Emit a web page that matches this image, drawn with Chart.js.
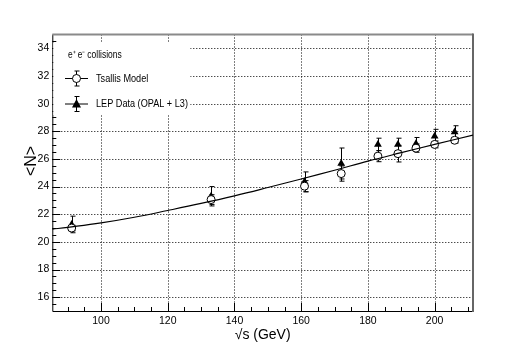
<!DOCTYPE html>
<html>
<head>
<meta charset="utf-8">
<script src="https://cdn.jsdelivr.net/npm/chart.js@4.4.0/dist/chart.umd.min.js"></script>
<style>
  html, body { margin: 0; padding: 0; background: #fff; }
  #wrap { width: 526px; height: 346px; }
</style>
</head>
<body>
<div id="wrap"><canvas id="chartCanvas" width="526" height="346"></canvas></div>
<script>
const energies = [91.2, 133, 161, 172, 183, 189, 194.4, 200, 206];
const tsallisMean = [21.0, 23.06, 24.03, 24.94, 26.2, 26.38, 26.78, 27.05, 27.35];
const tsallisErr = [0.2, 0.35, 0.4, 0.55, 0.4, 0.6, 0.3, 0.25, 0.2];
const lepMean = [21.26, 23.3, 24.34, 25.67, 27.05, 27.05, 27.1, 27.64, 27.95];
const lepErr = [0.6, 0.7, 0.72, 1.12, 0.45, 0.45, 0.45, 0.5, 0.45];
const curveX = [85.4, 90, 100, 110, 120, 130, 140, 150, 160, 170, 180, 190, 200, 211.5];
const curveY = [20.92, 21.05, 21.37, 21.78, 22.27, 22.78, 23.33, 23.93, 24.55, 25.18, 25.84, 26.45, 27.05, 27.72];
const xTicks = [100, 120, 140, 160, 180, 200];
const yTicks = [16, 18, 20, 22, 24, 26, 28, 30, 32, 34];

const FONT = "'Liberation Sans', Arial, sans-serif";
const errs = [tsallisErr, lepErr];

// condensed text, like the ROOT helvetica in the picture
function narrowText(ctx, txt, x, y, sx) {
  ctx.save();
  ctx.translate(x, y);
  ctx.scale(sx, 1);
  ctx.fillText(txt, 0, 0);
  ctx.restore();
}

// grid, ticks and frame (ROOT style)
const framePlugin = {
  id: 'frame',
  beforeDatasetsDraw(chart) {
    const { ctx, chartArea: a, scales: { x, y } } = chart;
    ctx.save();
    ctx.strokeStyle = '#000';
    ctx.lineWidth = 1;
    ctx.setLineDash([1, 2]);
    xTicks.forEach(v => {
      const px = Math.round(x.getPixelForValue(v)) + 0.5;
      ctx.beginPath(); ctx.moveTo(px, a.top); ctx.lineTo(px, a.bottom); ctx.stroke();
    });
    yTicks.forEach(v => {
      const py = Math.round(y.getPixelForValue(v)) + 0.5;
      ctx.beginPath(); ctx.moveTo(a.left, py); ctx.lineTo(a.right, py); ctx.stroke();
    });
    ctx.setLineDash([]);
    // axes
    ctx.beginPath();
    ctx.moveTo(a.left + 0.5, a.top); ctx.lineTo(a.left + 0.5, a.bottom + 0.5);
    ctx.lineTo(a.right, a.bottom + 0.5);
    ctx.stroke();
    for (let v = 90; v <= 210; v += 5) {
      const px = Math.round(x.getPixelForValue(v)) + 0.5;
      const len = v % 20 === 0 ? 8 : 4;
      ctx.beginPath(); ctx.moveTo(px, a.bottom); ctx.lineTo(px, a.bottom - len); ctx.stroke();
    }
    for (let v = 15.5; v <= 34.6; v += 0.5) {
      const py = Math.round(y.getPixelForValue(v)) + 0.5;
      const len = Math.abs(v % 2) < 0.01 ? 8 : 4;
      ctx.beginPath(); ctx.moveTo(a.left, py); ctx.lineTo(a.left + len, py); ctx.stroke();
    }
    // top / right frame
    ctx.strokeStyle = '#8a8a8a';
    ctx.lineWidth = 2;
    ctx.beginPath(); ctx.moveTo(a.left, a.top); ctx.lineTo(a.right, a.top); ctx.stroke();
    ctx.strokeStyle = '#666';
    ctx.beginPath(); ctx.moveTo(a.right, a.top - 1); ctx.lineTo(a.right, a.bottom + 1); ctx.stroke();

    // error bars
    ctx.strokeStyle = '#000';
    ctx.lineWidth = 1;
    [1, 2].forEach((di, k) => {
      const ds = chart.data.datasets[di];
      const meta = chart.getDatasetMeta(di);
      ds.data.forEach((p, i) => {
        const px = Math.round(meta.data[i].x) + 0.5;
        const y1 = y.getPixelForValue(p.y + errs[k][i]);
        const y2 = y.getPixelForValue(p.y - errs[k][i]);
        ctx.beginPath();
        ctx.moveTo(px, y1); ctx.lineTo(px, y2);
        ctx.moveTo(px - 2, y1); ctx.lineTo(px + 3, y1);
        ctx.moveTo(px - 2, y2); ctx.lineTo(px + 3, y2);
        ctx.stroke();
      });
    });
    ctx.restore();
  },
  afterDatasetsDraw(chart) {
    const { ctx, chartArea: a } = chart;
    ctx.save();
    ctx.fillStyle = '#fff';
    ctx.fillRect(a.left + 1, 43, 137, 72);
    ctx.fillStyle = '#000';
    ctx.strokeStyle = '#000';
    ctx.lineWidth = 1;
    ctx.textBaseline = 'middle';
    ctx.font = '10px ' + FONT;
    narrowText(ctx, 'e\u207A e\u207B collisions', 68, 55, 0.85);
    ctx.font = '11px ' + FONT;
    narrowText(ctx, 'Tsallis Model', 96, 79, 0.83);
    narrowText(ctx, 'LEP Data (OPAL + L3)', 96, 104, 0.83);
    [[78.5, 71, 86], [104, 96.5, 111.5]].forEach(([cy, t, b], k) => {
      ctx.beginPath();
      ctx.moveTo(65, cy); ctx.lineTo(88, cy);
      ctx.moveTo(76.5, t); ctx.lineTo(76.5, b);
      ctx.moveTo(74.5, t); ctx.lineTo(79.5, t);
      ctx.moveTo(74.5, b); ctx.lineTo(79.5, b);
      ctx.stroke();
      if (k === 0) {
        ctx.fillStyle = '#fff';
        ctx.beginPath(); ctx.arc(76.5, cy, 4, 0, Math.PI * 2); ctx.fill(); ctx.stroke();
      } else {
        ctx.fillStyle = '#000';
        ctx.beginPath();
        ctx.moveTo(76.5, cy - 5); ctx.lineTo(81, cy + 3.5); ctx.lineTo(72, cy + 3.5);
        ctx.closePath(); ctx.fill();
      }
    });
    // y axis title
    ctx.fillStyle = '#000';
    ctx.font = '16px ' + FONT;
    ctx.textAlign = 'center';
    ctx.translate(32, 161);
    ctx.rotate(-Math.PI / 2);
    ctx.fillText('<N>', 0, 0);
    ctx.restore();
  }
};

const ctx = document.getElementById('chartCanvas').getContext('2d');
new Chart(ctx, {
  type: 'scatter',
  data: {
    datasets: [
      {
        label: 'curve',
        type: 'line',
        data: curveX.map((v, i) => ({ x: v, y: curveY[i] })),
        borderColor: '#000',
        borderWidth: 1.2,
        pointRadius: 0,
        tension: 0.4,
        fill: false
      },
      {
        label: 'Tsallis Model',
        data: energies.map((v, i) => ({ x: v, y: tsallisMean[i] })),
        pointStyle: 'circle',
        pointRadius: 4,
        borderColor: '#000',
        backgroundColor: '#fff',
        borderWidth: 1
      },
      {
        label: 'LEP Data (OPAL + L3)',
        data: energies.map((v, i) => ({ x: v, y: lepMean[i] })),
        pointStyle: 'triangle',
        pointRadius: 4.5,
        borderColor: '#000',
        backgroundColor: '#000',
        borderWidth: 0
      }
    ]
  },
  options: {
    responsive: false,
    animation: false,
    layout: { padding: { left: 0, right: 53, top: 34.5, bottom: 0 } },
    plugins: { legend: { display: false }, tooltip: { enabled: false } },
    scales: {
      x: {
        type: 'linear',
        min: 85.4,
        max: 211.5,
        afterBuildTicks: s => { s.ticks = xTicks.map(v => ({ value: v })); },
        afterFit: s => { s.height = 35; },
        grid: { display: false, drawTicks: false },
        border: { display: false },
        ticks: { color: '#000', font: { family: FONT, size: 10.5 }, padding: 4, maxRotation: 0 },
        title: { display: true, text: '\u221As (GeV)', color: '#000', font: { family: FONT, size: 14 }, padding: { top: 0, bottom: 2 } }
      },
      y: {
        min: 15,
        max: 35,
        afterBuildTicks: s => { s.ticks = yTicks.map(v => ({ value: v })); },
        afterFit: s => { s.width = 52.3; },
        grid: { display: false, drawTicks: false },
        border: { display: false },
        ticks: { color: '#000', font: { family: FONT, size: 10.5 }, padding: 3 }
      }
    }
  },
  plugins: [framePlugin]
});
</script>
</body>
</html>
